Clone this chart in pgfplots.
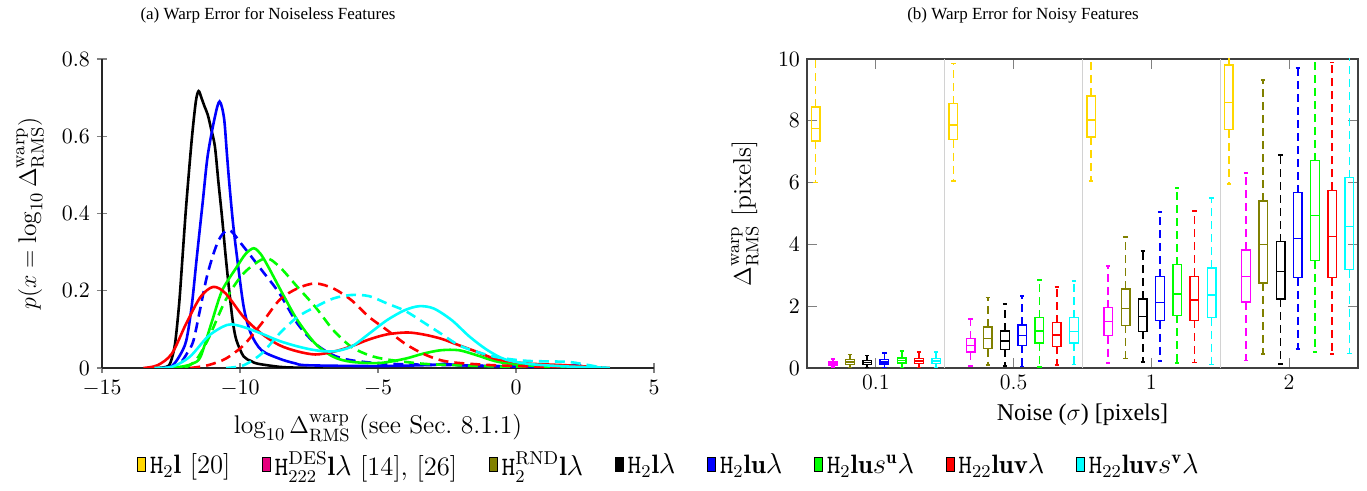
\documentclass[border=0pt]{standalone}
\usepackage{fontspec}
\newfontfamily\timesfont{Liberation Serif}
\usepackage{pgfplots}
\pgfplotsset{compat=1.18}
\usepgfplotslibrary{statistics}

\definecolor{cyel}{RGB}{255,215,0}
\definecolor{cmag}{RGB}{255,0,255}
\definecolor{cmagleg}{RGB}{230,0,126}
\definecolor{coli}{RGB}{128,128,0}
\definecolor{cgrn}{RGB}{0,255,0}
\definecolor{ccya}{RGB}{0,255,255}

% one prepared box: colour, position, lower whisker, lower quartile, median, upper quartile, upper whisker
\newcommand{\bx}[7]{\addplot[draw=#1, line width=0.7pt,
  boxplot/every box/.style={draw=#1},
  boxplot/every median/.style={draw=#1},
  boxplot/every whisker/.style={draw=#1, line width=0.85pt, dash pattern=on 4pt off 2.5pt},
  boxplot prepared={draw position=#2,
  lower whisker=#3, lower quartile=#4, median=#5, upper quartile=#6, upper whisker=#7}] coordinates {};}

\begin{document}
\begin{tikzpicture}
\useasboundingbox (-51pt,-61.5pt) rectangle (632.5pt,184pt);

\node[font=\timesfont\fontsize{8.5}{10}\selectfont] at (83pt,176.5pt) {(a) Warp Error for Noiseless Features};
\node[font=\timesfont\fontsize{8.5}{10}\selectfont] at (460.5pt,176.5pt) {(b) Warp Error for Noisy Features};

% (a) densities
\begin{axis}[
	at={(0pt,0pt)}, anchor=south west,
	scale only axis, width=276pt, height=154.5pt,
	axis lines=left, axis line style={-, black!85, line width=0.6pt},
	xmin=-15, xmax=5, ymin=0, ymax=0.8,
	xtick={-15,-10,-5,0,5}, ytick={0,0.2,0.4,0.6,0.8},
	tick style={gray, line width=0.6pt}, major tick length=5pt,
	ticklabel style={font=\fontsize{11}{13}\selectfont},
	xlabel={$\log_{10}\Delta^{\mathrm{warp}}_{\mathrm{RMS}}$ (see Sec.~8.1.1)},
	ylabel={$p(x=\log_{10}\Delta^{\mathrm{warp}}_{\mathrm{RMS}})$},
	label style={font=\fontsize{12.8}{15}\selectfont},
	xlabel style={at={(axis description cs:0.5,-0.194)}, anchor=center},
	ylabel style={at={(axis description cs:-0.13,0.5)}, anchor=center},
	every axis plot/.append style={line width=1.3pt, smooth, tension=0.5},
	dsh/.style={dash pattern=on 5pt off 3pt},
]
\addplot[black] coordinates {
(-13.0,0) (-12.6,0.005) (-12.45,0.03) (-12.34,0.07) (-12.2,0.17) (-12.08,0.29)
(-11.95,0.42) (-11.75,0.59) (-11.6,0.69) (-11.5,0.717) (-11.4,0.70) (-11.3,0.68)
(-11.17,0.656) (-11.05,0.62) (-10.91,0.574) (-10.78,0.48) (-10.65,0.39) (-10.52,0.29)
(-10.39,0.2) (-10.26,0.12) (-10.13,0.072) (-9.87,0.03) (-9.6,0.018) (-9.35,0.011)
(-8.57,0.003) (-8,0.001) (-7,0)
};
\addplot[blue] coordinates {
(-12.8,0) (-12.47,0.005) (-12.2,0.03) (-11.95,0.07) (-11.75,0.16) (-11.56,0.29)
(-11.35,0.43) (-11.17,0.55) (-10.91,0.65) (-10.74,0.69) (-10.58,0.648) (-10.48,0.56)
(-10.39,0.48) (-10.26,0.38) (-10.13,0.3) (-9.87,0.16) (-9.61,0.09) (-9.22,0.046)
(-8.57,0.024) (-8,0.012) (-7.53,0.007) (-5,0.005) (-3,0.008) (-2.6,0.011) (-2,0.007)
(0,0.004) (1.8,0.003) (2.2,0.012) (2.4,0.002) (2.6,0)
};
\addplot[blue, dsh] coordinates {
(-12.6,0) (-12.2,0.01) (-11.9,0.04) (-11.69,0.07) (-11.45,0.15) (-11.17,0.245)
(-10.78,0.33) (-10.39,0.357) (-9.87,0.314) (-9.22,0.254) (-8.57,0.193) (-7.92,0.115)
(-7.27,0.063) (-6.62,0.033) (-5.97,0.02) (-4.67,0.011) (-2.07,0.007) (0.53,0.003) (2.2,0)
};
\addplot[cgrn] coordinates {
(-12.5,0) (-12.0,0.005) (-11.7,0.012) (-11.43,0.029) (-11.04,0.115) (-10.65,0.2)
(-10.13,0.26) (-9.8,0.295) (-9.5,0.31) (-9.25,0.295) (-8.96,0.26) (-8.44,0.19)
(-7.92,0.124) (-7.27,0.063) (-6.62,0.029) (-5.97,0.016) (-4.93,0.013) (-4.02,0.024)
(-3.37,0.037) (-2.72,0.046) (-2.07,0.046) (-1.42,0.033) (-0.77,0.018) (-0.12,0.01)
(1.18,0.003) (1.8,0)
};
\addplot[cgrn, dsh] coordinates {
(-12.0,0) (-11.6,0.02) (-11.17,0.072) (-10.52,0.176) (-9.87,0.245) (-9.09,0.284)
(-8.57,0.262) (-7.92,0.21) (-7.27,0.158) (-6.62,0.098) (-5.97,0.055) (-5.32,0.033)
(-4.67,0.022) (-3.37,0.011) (-2.07,0.007) (-0.77,0.004) (0.5,0)
};
\addplot[red] coordinates {
(-13.5,0) (-12.99,0.007) (-12.47,0.037) (-11.95,0.115) (-11.43,0.184) (-10.97,0.21)
(-10.52,0.193) (-9.87,0.132) (-9.22,0.089) (-8.57,0.059) (-7.92,0.043) (-7.27,0.035)
(-6.62,0.042) (-5.97,0.056) (-5.32,0.074) (-4.67,0.087) (-3.95,0.092) (-3.37,0.087)
(-2.72,0.076) (-2.07,0.059) (-1.42,0.042) (-0.77,0.024) (-0.12,0.016) (0.53,0.011)
(1.83,0.007) (3.14,0.001) (3.4,0)
};
\addplot[red, dsh] coordinates {
(-11.8,0) (-11.17,0.007) (-10.52,0.024) (-9.87,0.059) (-9.22,0.115) (-8.57,0.176)
(-7.92,0.206) (-7.27,0.219) (-6.62,0.206) (-5.97,0.176) (-5.32,0.132) (-4.67,0.098)
(-4.02,0.063) (-3.37,0.037) (-2.72,0.02) (-2.07,0.013) (-0.77,0.007) (0.53,0.004)
(1.83,0.001) (2.2,0)
};
\addplot[ccya] coordinates {
(-13.1,0) (-12.47,0.003) (-11.82,0.029) (-11.17,0.081) (-10.65,0.106) (-10.32,0.113)
(-9.87,0.106) (-9.22,0.089) (-8.57,0.07) (-7.92,0.056) (-7.27,0.046) (-6.62,0.043)
(-5.97,0.055) (-5.32,0.089) (-4.67,0.124) (-4.02,0.15) (-3.5,0.16) (-2.98,0.154)
(-2.33,0.124) (-1.68,0.081) (-1.03,0.046) (-0.38,0.022) (0.53,0.01) (1.83,0.004)
(3.14,0.001) (3.4,0)
};
\addplot[ccya, dsh] coordinates {
(-10.5,0) (-9.87,0.007) (-9.22,0.037) (-8.57,0.089) (-7.92,0.132) (-7.27,0.158)
(-6.62,0.18) (-5.97,0.189) (-5.32,0.186) (-4.67,0.167) (-4.02,0.148) (-3.37,0.119)
(-2.72,0.089) (-2.07,0.059) (-1.42,0.042) (-0.77,0.029) (-0.12,0.022) (0.53,0.018)
(1.83,0.016) (2.35,0.011) (3.14,0.001) (3.3,0)
};
\end{axis}

% (b) box plots
\begin{axis}[
	at={(352.5pt,0pt)}, anchor=south west,
	scale only axis, width=275.5pt, height=154.5pt,
	axis line style={black!75, line width=0.8pt},
	xmin=0, xmax=32, ymin=0, ymax=10,
	xtick={4,12,20,28}, xticklabels={0.1,0.5,1,2},
	ytick={0,2,4,6,8,10},
	tick style={gray, line width=0.6pt}, major tick length=5pt,
	extra x ticks={8,16,24}, extra x tick labels={},
	extra x tick style={grid=major, major grid style={gray!35, line width=0.6pt}, major tick length=0pt},
	ticklabel style={font=\fontsize{11}{13}\selectfont},
	xlabel={\timesfont Noise ($\sigma$) [pixels]},
	ylabel={$\Delta^{\mathrm{warp}}_{\mathrm{RMS}}$ [pixels]},
	xlabel style={font=\fontsize{12}{14}\selectfont, at={(axis description cs:0.5,-0.152)}, anchor=center},
	ylabel style={font=\fontsize{12.8}{15}\selectfont, at={(axis description cs:-0.1125,0.5)}, anchor=center},
	boxplot/draw direction=y,
	boxplot/box extend=0.5, boxplot/whisker extend=0.25,
]
% sigma = 0.1
\bx{cyel}{0.5}{6.0}{7.35}{7.75}{8.45}{10.5}
\bx{cmag}{1.5}{0.03}{0.1}{0.15}{0.2}{0.3}
\bx{coli}{2.5}{0.01}{0.12}{0.2}{0.27}{0.44}
\bx{black}{3.5}{0.01}{0.11}{0.17}{0.25}{0.4}
\bx{blue}{4.5}{0.01}{0.13}{0.2}{0.28}{0.49}
\bx{cgrn}{5.5}{0.02}{0.16}{0.24}{0.32}{0.56}
\bx{red}{6.5}{0.01}{0.14}{0.22}{0.30}{0.52}
\bx{ccya}{7.5}{0.02}{0.15}{0.23}{0.31}{0.52}
% sigma = 0.5
\bx{cyel}{8.5}{6.05}{7.39}{7.86}{8.55}{9.85}
\bx{cmag}{9.5}{0.06}{0.52}{0.73}{0.95}{1.59}
\bx{coli}{10.5}{0.09}{0.63}{0.95}{1.33}{2.28}
\bx{black}{11.5}{0.06}{0.6}{0.87}{1.2}{2.07}
\bx{blue}{12.5}{0.05}{0.73}{1.06}{1.39}{2.34}
\bx{cgrn}{13.5}{0.03}{0.81}{1.2}{1.63}{2.85}
\bx{red}{14.5}{0.09}{0.7}{1.07}{1.47}{2.62}
\bx{ccya}{15.5}{0.11}{0.81}{1.18}{1.63}{2.82}
% sigma = 1
\bx{cyel}{16.5}{6.06}{7.48}{8.02}{8.8}{10.5}
\bx{cmag}{17.5}{0.16}{1.05}{1.5}{1.95}{3.3}
\bx{coli}{18.5}{0.31}{1.38}{1.93}{2.56}{4.25}
\bx{black}{19.5}{0.19}{1.19}{1.66}{2.23}{3.78}
\bx{blue}{20.5}{0.23}{1.53}{2.11}{2.96}{5.04}
\bx{cgrn}{21.5}{0.16}{1.7}{2.4}{3.34}{5.83}
\bx{red}{22.5}{0.18}{1.54}{2.2}{2.97}{5.08}
\bx{ccya}{23.5}{0.11}{1.63}{2.36}{3.23}{5.5}
% sigma = 2
\bx{cyel}{24.5}{5.96}{7.71}{8.59}{9.8}{10.5}
\bx{cmag}{25.5}{0.24}{2.14}{2.97}{3.82}{6.32}
\bx{coli}{26.5}{0.45}{2.75}{4.0}{5.4}{9.33}
\bx{black}{27.5}{0.14}{2.23}{3.12}{4.09}{6.9}
\bx{blue}{28.5}{0.61}{2.92}{4.2}{5.67}{9.7}
\bx{cgrn}{29.5}{0.52}{3.47}{4.94}{6.71}{10.5}
\bx{red}{30.5}{0.46}{2.92}{4.26}{5.75}{9.89}
\bx{ccya}{31.5}{0.47}{3.18}{4.57}{6.16}{10.5}
\end{axis}

% shared legend
\begin{axis}[
	at={(0pt,0pt)}, anchor=south west,
	scale only axis, width=276pt, height=154.5pt,
	hide axis, xmin=0, xmax=1, ymin=0, ymax=1,
	legend columns=-1,
	legend style={at={(1.029,-0.314)}, anchor=center, draw=none, fill=none,
		font=\fontsize{13.3}{16}\selectfont,
		/tikz/every even column/.append style={column sep=14pt}},
	legend image code/.code={\fill[#1] (0pt,-3.2pt) rectangle (3.8pt,3.6pt);},
]
\addlegendimage{fill=cyel}
\addlegendentry{$\mathtt{H}_2\mathbf{l}$ [20]}
\addlegendimage{fill=cmagleg}
\addlegendentry{$\mathtt{H}^{\mathrm{DES}}_{222}\mathbf{l}\lambda$ [14], [26]}
\addlegendimage{fill=coli}
\addlegendentry{$\mathtt{H}^{\mathrm{RND}}_{2}\mathbf{l}\lambda$}
\addlegendimage{fill=black}
\addlegendentry{$\mathtt{H}_2\mathbf{l}\lambda$}
\addlegendimage{fill=blue}
\addlegendentry{$\mathtt{H}_2\mathbf{lu}\lambda$}
\addlegendimage{fill=cgrn}
\addlegendentry{$\mathtt{H}_2\mathbf{lu}s^{\mathbf{u}}\lambda$}
\addlegendimage{fill=red}
\addlegendentry{$\mathtt{H}_{22}\mathbf{luv}\lambda$}
\addlegendimage{fill=ccya}
\addlegendentry{$\mathtt{H}_{22}\mathbf{luv}s^{\mathbf{v}}\lambda$}
\end{axis}
\end{tikzpicture}
\end{document}
